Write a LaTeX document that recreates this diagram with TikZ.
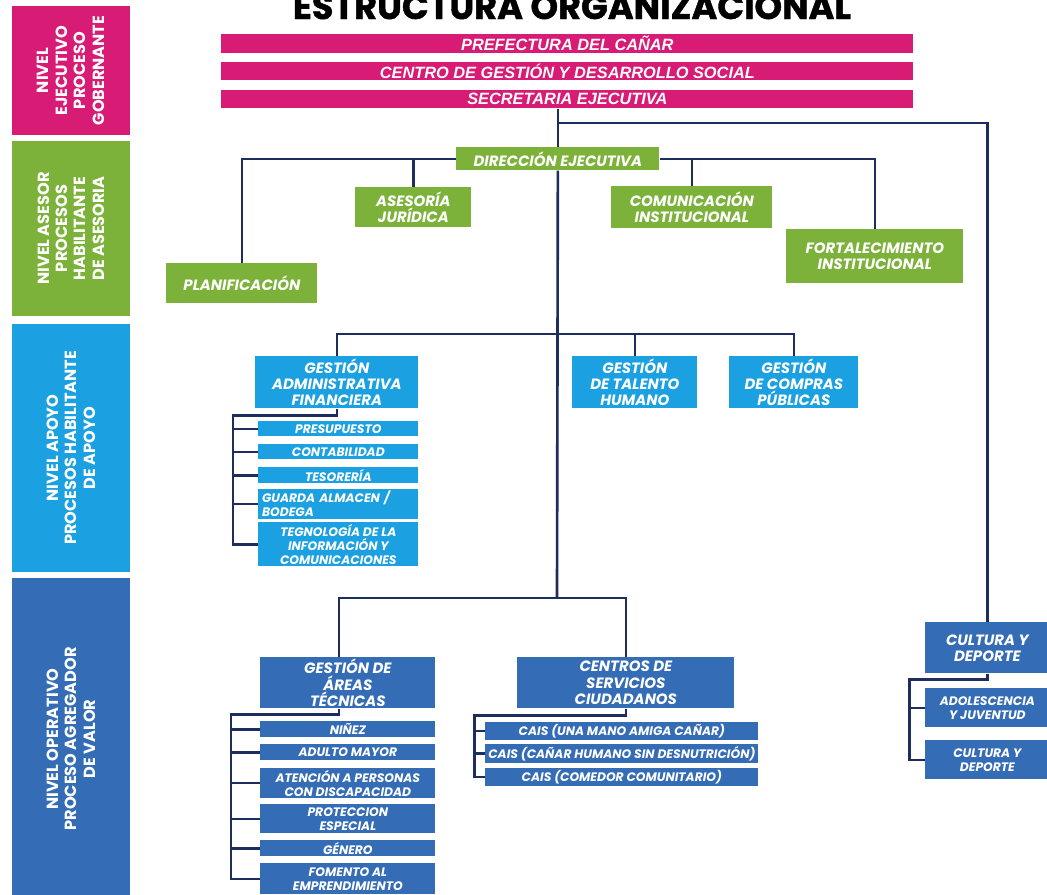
\documentclass[tikz,border=0pt]{standalone}
\usepackage{fontspec}
\setmainfont{Poppins}
\newfontfamily\barrafont{Liberation Sans}
\newfontfamily\titulofont[FakeBold=1.2]{Poppins}
\usepackage{xcolor}
\usetikzlibrary{positioning}

\definecolor{rosa}{RGB}{216,27,116}
\definecolor{verde}{RGB}{124,178,58}
\definecolor{celeste}{RGB}{27,160,225}
\definecolor{azul}{RGB}{52,108,182}
\definecolor{marino}{RGB}{28,45,94}

\newcommand\ftitulo{\titulofont\fontsize{20}{22}\selectfont\bfseries}
\newcommand\fnivel{\fontsize{9.2}{10.5}\selectfont\bfseries}
\newcommand\fbarra{\barrafont\fontsize{9.3}{10}\selectfont\bfseries\itshape}
\newcommand\fcaja{\fontsize{8.5}{9.2}\selectfont\bfseries\itshape}
\newcommand\fsub{\fontsize{7}{7.9}\selectfont\bfseries\itshape}

\begin{document}
\begin{tikzpicture}[x=0.02cm,y=-0.02cm]

		\tikzset{%
			caja/.style  = {fill=#1, text=white, inner sep=1pt, align=center,
				anchor=north west, font=\fcaja},
			sub/.style   = {caja=#1, font=\fsub}, % subunidades
			tam/.style 2 args = {minimum width=#1*0.02cm, minimum height=#2*0.02cm},
			nivel/.style = {fill=#1, text=white, rotate=90, inner sep=0pt,
				align=center, font=\fnivel}, % columna izquierda
			barra/.style = {caja=rosa, font=\fbarra, tam={692}{18}},
			linea/.style = {draw=marino, line width=1.5pt}
		}

		\useasboundingbox (0,0) rectangle (1047,894);
		\fill[white] (0,0) rectangle (1047,894);
		\clip (0,0) rectangle (1047,894);

		% Niveles
		\node[nivel=rosa, tam={129}{118}] (nejec) at (71,70.5) {NIVEL\\EJECUTIVO\\PROCESO\\GOBERNANTE};
		\node[nivel=verde, tam={175}{118}] (nases) at (71,228.5) {NIVEL ASESOR\\PROCESOS\\HABILITANTE\\DE ASESORIA};
		\node[nivel=celeste, tam={248}{118}] (napoy) at (71,448) {NIVEL APOYO\\PROCESOS HABILITANTE\\DE APOYO};
		\node[nivel=azul, tam={322}{118}] (noper) at (71,739) {NIVEL OPERATIVO\\PROCESO AGREGADOR\\DE VALOR};

		\node[font=\ftitulo, anchor=base] (titulo) at (572,19) {ESTRUCTURA ORGANIZACIONAL};

		% Proceso gobernante
		\node[barra] (pref) at (221,34) {PREFECTURA DEL CAÑAR};
		\node[barra] (cgds) at (221,62) {CENTRO DE GESTIÓN Y DESARROLLO SOCIAL};
		\node[barra] (secre) at (221,90) {SECRETARIA EJECUTIVA};

		% Asesoria
		\node[caja=verde, tam={203}{23}] (dir) at (456,147) {DIRECCIÓN EJECUTIVA};
		\node[caja=verde, tam={116}{40}] (ases) at (355,187) {ASESORÍA\\JURÍDICA};
		\node[caja=verde, tam={151}{40}] (plan) at (166,263) {PLANIFICACIÓN};
		\node[caja=verde, tam={161}{42}] (comu) at (611,186) {COMUNICACIÓN\\INSTITUCIONAL};
		\node[caja=verde, tam={177}{54}] (fort) at (786,229) {FORTALECIMIENTO\\INSTITUCIONAL};

		% Apoyo
		\node[caja=celeste, tam={163}{52}] (gaf) at (255,356) {GESTIÓN\\ADMINISTRATIVA\\FINANCIERA};
		\node[caja=celeste, tam={125}{52}] (tal) at (572,356) {GESTIÓN\\DE TALENTO\\HUMANO};
		\node[caja=celeste, tam={129}{52}] (comp) at (729,356) {GESTIÓN\\DE COMPRAS\\PÚBLICAS};
		\node[sub=celeste, tam={160}{15}] (pres) at (258,421) {PRESUPUESTO};
		\node[sub=celeste, tam={160}{15}] (cont) at (258,444) {CONTABILIDAD};
		\node[sub=celeste, tam={160}{16}] (teso) at (258,467) {TESORERÍA};
		\node[sub=celeste, tam={160}{26}, text width=3.05cm, align=left] (guar) at (258,489) {GUARDA ALMACEN /\\BODEGA};
		\node[sub=celeste, tam={160}{44}] (tec) at (258,522) {TEGNOLOGÍA DE LA\\INFORMACIÓN Y\\COMUNICACIONES};

		% Operativo
		\node[caja=azul, tam={175}{51}] (areas) at (260,657) {GESTIÓN DE\\ÁREAS\\TÉCNICAS};
		\node[sub=azul, tam={175}{16}] (nin) at (260,721) {NIÑEZ};
		\node[sub=azul, tam={175}{16}] (adul) at (260,744) {ADULTO MAYOR};
		\node[sub=azul, tam={175}{29}] (aten) at (260,768) {ATENCIÓN A PERSONAS\\CON DISCAPACIDAD};
		\node[sub=azul, tam={175}{29}] (prot) at (260,804) {PROTECCION\\ESPECIAL};
		\node[sub=azul, tam={175}{16}] (gen) at (260,840) {GÉNERO};
		\node[sub=azul, tam={175}{31}] (fom) at (260,863) {FOMENTO AL\\EMPRENDIMIENTO};

		\node[caja=azul, tam={217}{51}] (centros) at (517,657) {CENTROS DE\\SERVICIOS\\CIUDADANOS};
		\node[sub=azul, tam={273}{15}] (cais1) at (485,722) {CAIS (UNA MANO AMIGA CAÑAR)};
		\node[sub=azul, tam={273}{16}] (cais2) at (485,744) {CAIS (CAÑAR HUMANO SIN DESNUTRICIÓN)};
		\node[sub=azul, tam={273}{15}] (cais3) at (485,768) {CAIS (COMEDOR COMUNITARIO)};

		\node[caja=azul, tam={124}{51}] (cult) at (925,622) {CULTURA Y\\DEPORTE};
		\node[sub=azul, tam={124}{39}] (ado) at (925,688) {ADOLESCENCIA\\Y JUVENTUD};
		\node[sub=azul, tam={124}{39}] (cdep) at (925,740) {CULTURA Y\\DEPORTE};

		\coordinate (cruce) at (557,123);
		\coordinate (apoyo) at (557,334);
		\coordinate (oper) at (557,598);

		% Lineas
		\draw[linea] (secre.south -| dir.north) -- (dir.north);
		\draw[linea] (dir.south) -- (oper);
		\draw[linea] (cruce) -| (cult.north);
		\draw[linea] (dir.west) -| (plan.north);
		\draw[linea] (ases.north) -- (ases.north |- dir.west);
		\draw[linea] (dir.east) -| (fort.north);
		\draw[linea] (comu.north) -- (comu.north |- dir.east);
		\draw[linea] (gaf.north) |- (apoyo) -| (comp.north);
		\draw[linea] (tal.north) -- (tal.north |- apoyo);
		\draw[linea] ([xshift=-5pt]areas.north) |- (oper) -| (centros.north);

		\draw[linea] (gaf.south) -- ++(0,7) -- ++(-104,0) |- (tec.west);
		\foreach \s in {pres,cont,teso,guar}
			\draw[linea] (\s.west) -- ++(-25,0);
		\draw[linea] ([xshift=-5pt]areas.south) -- ++(0,6) -- ++(-108,0) |- (fom.west);
		\foreach \s in {nin,adul,aten,prot,gen}
			\draw[linea] (\s.west) -- ++(-30,0);
		\draw[linea] (centros.south) -- ++(0,7) -- ++(-151.5,0) |- (cais3.west);
		\foreach \s in {cais1,cais2}
			\draw[linea] (\s.west) -- ++(-11,0);
		\draw[linea] (cult.south) -- ++(0,6) -- ++(-78,0) |- (cdep.west);
		\draw[linea] (ado.west) -- ++(-16,0);
\end{tikzpicture}
\end{document}
